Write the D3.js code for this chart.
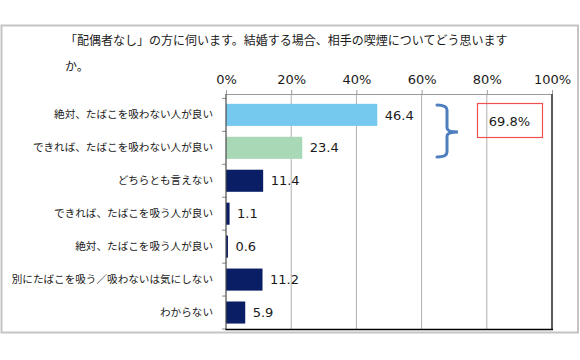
<!DOCTYPE html>
<html><head><meta charset="utf-8">
<script src="https://cdn.jsdelivr.net/npm/d3@7/dist/d3.min.js"></script>
<style>
html,body{margin:0;padding:0;background:#fff;}
svg{display:block;}
</style></head>
<body>
<svg id="chart" width="580" height="360"></svg>
<script>
const titleLines = ["「配偶者なし」の方に伺います。結婚する場合、相手の喫煙についてどう思います", "か。"];
const categories = [
  "絶対、たばこを吸わない人が良い",
  "できれば、たばこを吸わない人が良い",
  "どちらとも言えない",
  "できれば、たばこを吸う人が良い",
  "絶対、たばこを吸う人が良い",
  "別にたばこを吸う／吸わないは気にしない",
  "わからない"
];
const values = [46.4, 23.4, 11.4, 1.1, 0.6, 11.2, 5.9];
const tickValues = [0, 20, 40, 60, 80, 100];
const bracedCount = 2;

const barColors = ["#76c9ee", "#a8d8b6", "#0a1e66", "#0a1e66", "#0a1e66", "#0a1e66", "#0a1e66"];

const svg = d3.select("#chart");
const JP = "'Noto Sans CJK JP', 'Noto Sans', sans-serif";
const NUM = "'DejaVu Sans', Verdana, sans-serif";

// outer frame
svg.append("rect").attr("x", 1.5).attr("y", 25.5).attr("width", 576.5).attr("height", 307)
  .attr("fill", "#fff").attr("stroke", "#c4c4c4").attr("stroke-width", 2);

// title
svg.append("g").selectAll("text").data(titleLines).join("text")
  .attr("x", 65).attr("y", (d, i) => 45 + i * 25.5)
  .attr("font-family", JP).attr("font-size", 12).attr("fill", "#1a1a1a")
  .text(d => d);

const x = d3.scaleLinear().domain([0, 100]).range([226, 552]);
const y = d3.scaleBand().domain(categories).range([98.4, 329]).paddingInner(0.33).paddingOuter(0.165);
const yb = d3.scaleBand().domain(categories).range([98.4, 329]);

// gridlines
svg.append("g").selectAll("line").data(tickValues.filter(v => v > 0 && v < 100)).join("line")
  .attr("x1", d => x(d)).attr("x2", d => x(d)).attr("y1", 94).attr("y2", 329)
  .attr("stroke", "#b0b0b0").attr("stroke-width", 1);

// top axis
const topAxis = d3.axisTop(x).tickValues(tickValues).tickFormat(d => d + "%").tickSize(4).tickPadding(6);
const ta = svg.append("g").attr("transform", "translate(0,94)").call(topAxis);
ta.select(".domain").attr("stroke", "#9a9a9a");
ta.selectAll(".tick line").attr("stroke", "#9a9a9a");
ta.selectAll("text").attr("font-family", NUM).attr("font-size", 13).attr("fill", "#1a1a1a");

// bars
svg.append("g").selectAll("rect").data(values).join("rect")
  .attr("x", x(0)).attr("y", (d, i) => y(categories[i]))
  .attr("width", d => x(d) - x(0)).attr("height", y.bandwidth())
  .attr("fill", (d, i) => barColors[i]);

// value labels
svg.append("g").selectAll("text").data(values).join("text")
  .attr("x", d => x(d) + 7.5).attr("y", (d, i) => y(categories[i]) + y.bandwidth() / 2)
  .attr("dy", "0.36em")
  .attr("font-family", NUM).attr("font-size", 13).attr("fill", "#1a1a1a")
  .text(d => d.toFixed(1));

// left category axis
const leftAxis = d3.axisLeft(yb).tickSize(0).tickPadding(13);
const la = svg.append("g").attr("transform", "translate(226,0)").call(leftAxis);
la.select(".domain").remove();
la.selectAll("text").attr("font-family", JP).attr("font-size", 10.6).attr("fill", "#1a1a1a");
// category boundary ticks
svg.append("g").selectAll("line").data(categories.slice(1).concat(["__end"]).map((c, i) => 98.4 + (i + 1) * yb.step()).concat([98.4]))
  .join("line").attr("x1", 222).attr("x2", 226).attr("y1", d => d).attr("y2", d => d)
  .attr("stroke", "#8a8a8a");
svg.append("line").attr("x1", 226).attr("x2", 226).attr("y1", 94).attr("y2", 329.5)
  .attr("stroke", "#4a4a4a").attr("stroke-width", 1.2);

// right edge and bottom
svg.append("line").attr("x1", x(100)).attr("x2", x(100)).attr("y1", 94).attr("y2", 330)
  .attr("stroke", "#5a5a5a").attr("stroke-width", 2);
svg.append("line").attr("x1", 225.5).attr("x2", x(100) + 1).attr("y1", 329.5).attr("y2", 329.5)
  .attr("stroke", "#000").attr("stroke-width", 1.3);

// brace
const bTop = 105, bBot = 157, bMid = 132, bxL = 437, bxV = 447, bxTip = 458;
const brace = d3.path();
brace.moveTo(bxL, bTop);
brace.quadraticCurveTo(bxV, bTop, bxV, bTop + 5);
brace.lineTo(bxV, bMid - 4);
brace.quadraticCurveTo(bxV, bMid, bxTip, bMid);
brace.quadraticCurveTo(bxV, bMid, bxV, bMid + 4);
brace.lineTo(bxV, bBot - 5);
brace.quadraticCurveTo(bxV, bBot, bxL, bBot);
svg.append("path").attr("d", brace.toString()).attr("fill", "none")
  .attr("stroke", "#4f7fbf").attr("stroke-width", 3).attr("stroke-linecap", "round");

// total box
const total = d3.sum(values.slice(0, bracedCount));
svg.append("rect").attr("x", 477.5).attr("y", 103.5).attr("width", 65).attr("height", 34)
  .attr("fill", "none").attr("stroke", "#f05050").attr("stroke-width", 1.2);
svg.append("text").attr("x", 509.5).attr("y", 121).attr("dy", "0.36em").attr("text-anchor", "middle")
  .attr("font-family", NUM).attr("font-size", 13).attr("fill", "#1a1a1a")
  .text(total.toFixed(1) + "%");
</script>
</body></html>
